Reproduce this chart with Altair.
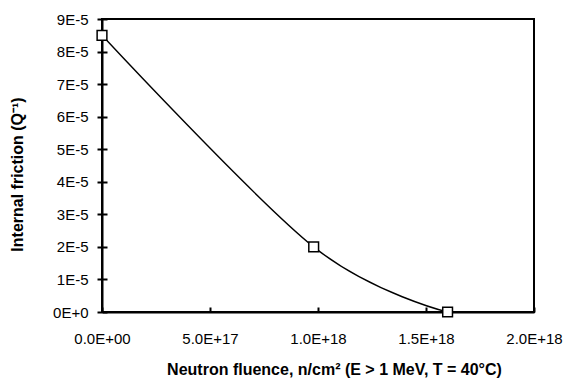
import altair as alt
import pandas as pd

fluence = [0.0, 0.98e18, 1.6e18]
friction = [8.5e-5, 2.0e-5, 0.0]

x_ticks = [0.0, 5e17, 1e18, 1.5e18, 2e18]
x_labels = ["0.0E+00", "5.0E+17", "1.0E+18", "1.5E+18", "2.0E+18"]
y_ticks = [0.0, 1e-5, 2e-5, 3e-5, 4e-5, 5e-5, 6e-5, 7e-5, 8e-5, 9e-5]
y_labels = ["0E+0", "1E-5", "2E-5", "3E-5", "4E-5", "5E-5", "6E-5", "7E-5", "8E-5", "9E-5"]

df = pd.DataFrame({"x": fluence, "y": friction})


def label_expr(vals, labs):
    expr = "''"
    for v, l in reversed(list(zip(vals, labs))):
        expr = f"datum.value == {v!r} ? '{l}' : ({expr})"
    return expr


FONT = "Liberation Sans"

x_scale = alt.Scale(domain=[0, 2e18], nice=False, zero=False)
y_scale = alt.Scale(domain=[0, 9e-5], nice=False, zero=False)

x_main = alt.Axis(
    orient="bottom", values=x_ticks, labelExpr=label_expr(x_ticks, x_labels),
    title="Neutron fluence, n/cm² (E > 1 MeV, T = 40°C)",
    titleFont=FONT, titleFontSize=16, titleFontWeight="bold", titleColor="black",
    titleX=232, titleY=62, titleBaseline="alphabetic", titleAlign="center", titleAnchor="start",
    labelFont=FONT, labelFontSize=15, labelColor="black", labelPadding=19,
    ticks=False, domainColor="black", domainWidth=2, grid=False, labelFlush=False,
)
y_main = alt.Axis(
    orient="left", values=y_ticks, labelExpr=label_expr(y_ticks, y_labels),
    title="Internal friction (Q⁻¹)",
    titleFont=FONT, titleFontSize=16, titleFontWeight="bold", titleColor="black",
    titleX=-80, titleY=155, titleAngle=270, titleBaseline="alphabetic", titleAlign="center",
    titleAnchor="start",
    labelFont=FONT, labelFontSize=15, labelColor="black", labelPadding=9,
    tickSize=5, tickWidth=2, tickColor="black",
    domainColor="black", domainWidth=2, grid=False, labelFlush=False,
)
x_inner = alt.Axis(
    orient="bottom", values=x_ticks, labels=False, domain=False, title=None,
    tickSize=5, tickWidth=2, tickColor="black", offset=-5, grid=False,
)
y_inner = alt.Axis(
    orient="left", values=y_ticks, labels=False, domain=False, title=None,
    tickSize=5, tickWidth=2, tickColor="black", offset=-5, grid=False,
)

line = alt.Chart(df).mark_line(
    interpolate="cardinal", color="black", strokeWidth=1.4
).encode(
    x=alt.X("x:Q", scale=x_scale, axis=x_main),
    y=alt.Y("y:Q", scale=y_scale, axis=y_main),
)

points = alt.Chart(df).mark_point(
    shape="square", filled=True, fill="white", stroke="black", strokeWidth=1.5,
    size=95, opacity=1,
).encode(
    x=alt.X("x:Q", scale=x_scale, axis=x_inner),
    y=alt.Y("y:Q", scale=y_scale, axis=y_inner),
)

chart = alt.layer(line, points).resolve_axis(x="independent", y="independent").properties(
    width=432, height=293,
    autosize=alt.AutoSizeParams(type="none"),
    padding={"left": 102, "top": 19, "right": 36, "bottom": 70},
    background="white",
).configure_view(stroke="black", strokeWidth=2)

chart.save("out.html", embed_options={"renderer": "svg", "actions": False})
